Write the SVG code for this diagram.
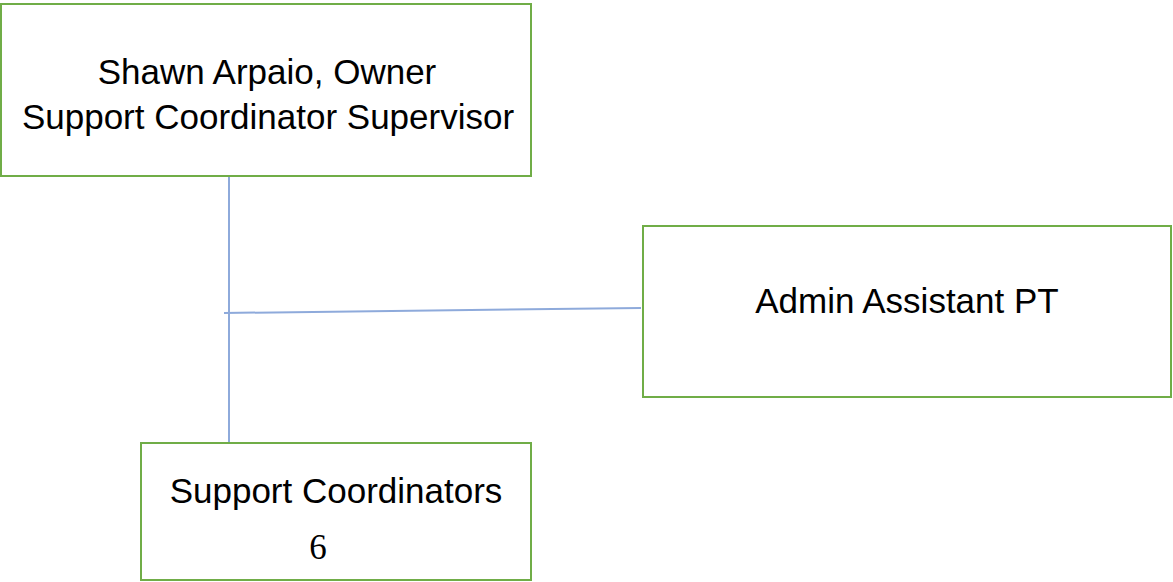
<svg xmlns="http://www.w3.org/2000/svg" width="1173" height="582" viewBox="0 0 1173 582">
  <style>
    .box { fill: #ffffff; stroke: #70ad47; stroke-width: 2; }
    .lbl { font-family: "Liberation Sans", Arial, sans-serif; font-size: 35px; fill: #000000; text-anchor: middle; }
    .num { font-family: "Liberation Serif", "Times New Roman", serif; font-size: 35px; fill: #000000; text-anchor: middle; }
    .link { stroke: #8eaadb; stroke-width: 2; fill: none; }
  </style>
  <rect width="1173" height="582" fill="#ffffff"/>
  <g id="connectors">
    <line class="link" x1="229" y1="176" x2="229" y2="443"/>
    <line class="link" x1="224" y1="313" x2="641" y2="308"/>
  </g>
  <g id="owner">
    <rect class="box" x="1" y="4" width="530" height="172"/>
    <text class="lbl" x="267" y="84">Shawn Arpaio, Owner</text>
    <text class="lbl" x="268" y="129">Support Coordinator Supervisor</text>
  </g>
  <g id="admin">
    <rect class="box" x="643" y="226" width="528" height="171"/>
    <text class="lbl" x="907" y="313">Admin Assistant PT</text>
  </g>
  <g id="coordinators">
    <rect class="box" x="141" y="443" width="390" height="137"/>
    <text class="lbl" x="336" y="503">Support Coordinators</text>
    <text class="num" x="318" y="559">6</text>
  </g>
</svg>
